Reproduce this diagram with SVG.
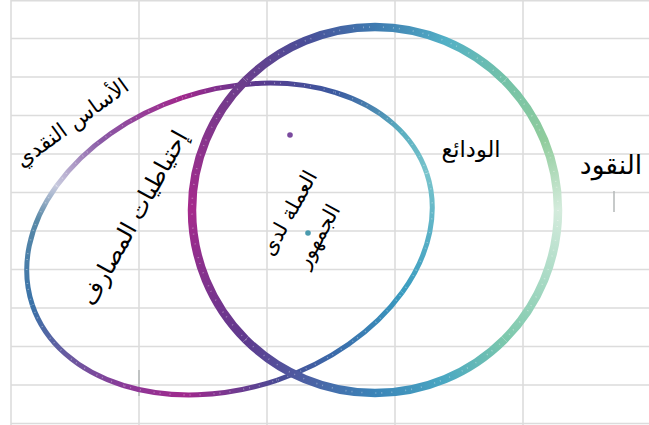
<svg xmlns="http://www.w3.org/2000/svg" width="649" height="425" viewBox="0 0 649 425">
<style>
.grid{stroke:#dcdcdc;stroke-width:1.6;fill:none}
.ring{fill:none;stroke-width:8.5;stroke-linecap:butt}
.ring2{fill:none;stroke-width:5;stroke-linecap:butt}
.spark{fill:none;stroke:#ffffff;stroke-opacity:0.35;stroke-width:1.6;stroke-dasharray:1 9 1 5 1 13}
.lbl{font-family:"DejaVu Sans","Noto Sans",sans-serif;fill:#000}
.mark{stroke:#b4b8b8;stroke-width:1.5}
</style>
<defs>
<linearGradient id="b1" gradientUnits="userSpaceOnUse" x1="558" y1="210" x2="504" y2="339"><stop offset="0" stop-color="#d4ebdc"/><stop offset="1" stop-color="#7cc8ac"/></linearGradient>
<linearGradient id="b2" gradientUnits="userSpaceOnUse" x1="504" y1="339" x2="375" y2="393"><stop offset="0" stop-color="#7cc8ac"/><stop offset="0.5" stop-color="#4aa8c2"/><stop offset="1" stop-color="#3a84b8"/></linearGradient>
<linearGradient id="b3" gradientUnits="userSpaceOnUse" x1="375" y1="393" x2="246" y2="339"><stop offset="0" stop-color="#3a84b8"/><stop offset="1" stop-color="#5e3a8e"/></linearGradient>
<linearGradient id="b4" gradientUnits="userSpaceOnUse" x1="246" y1="339" x2="192" y2="210"><stop offset="0" stop-color="#5e3a8e"/><stop offset="1" stop-color="#a52a8c"/></linearGradient>
<linearGradient id="b5" gradientUnits="userSpaceOnUse" x1="192" y1="210" x2="246" y2="81"><stop offset="0" stop-color="#a52a8c"/><stop offset="1" stop-color="#6a3e8c"/></linearGradient>
<linearGradient id="b6" gradientUnits="userSpaceOnUse" x1="246" y1="81" x2="375" y2="27"><stop offset="0" stop-color="#6a3e8c"/><stop offset="0.5" stop-color="#4a4e98"/><stop offset="1" stop-color="#3e7ab0"/></linearGradient>
<linearGradient id="b7" gradientUnits="userSpaceOnUse" x1="375" y1="27" x2="504" y2="81"><stop offset="0" stop-color="#3e7ab0"/><stop offset="0.5" stop-color="#52b0c6"/><stop offset="1" stop-color="#74c2a8"/></linearGradient>
<linearGradient id="b8" gradientUnits="userSpaceOnUse" x1="504" y1="81" x2="558" y2="210"><stop offset="0" stop-color="#74c2a8"/><stop offset="0.5" stop-color="#90cc9c"/><stop offset="1" stop-color="#d4ebdc"/></linearGradient>
<linearGradient id="s1" gradientUnits="userSpaceOnUse" x1="427" y1="173" x2="402" y2="292"><stop offset="0" stop-color="#78c4cc"/><stop offset="1" stop-color="#3a9cc0"/></linearGradient>
<linearGradient id="s2" gradientUnits="userSpaceOnUse" x1="402" y1="292" x2="277" y2="380"><stop offset="0" stop-color="#3a9cc0"/><stop offset="0.6" stop-color="#3a6aaa"/><stop offset="1" stop-color="#4a4a94"/></linearGradient>
<linearGradient id="s3" gradientUnits="userSpaceOnUse" x1="277" y1="380" x2="124" y2="386"><stop offset="0" stop-color="#4a4a94"/><stop offset="0.6" stop-color="#a0288c"/><stop offset="1" stop-color="#8a3a98"/></linearGradient>
<linearGradient id="s4" gradientUnits="userSpaceOnUse" x1="124" y1="386" x2="32" y2="305"><stop offset="0" stop-color="#8a3a98"/><stop offset="0.5" stop-color="#6a5aa0"/><stop offset="1" stop-color="#3a72a8"/></linearGradient>
<linearGradient id="s5" gradientUnits="userSpaceOnUse" x1="32" y1="305" x2="57" y2="186"><stop offset="0" stop-color="#3a72a8"/><stop offset="0.7" stop-color="#5a8aa8"/><stop offset="1" stop-color="#c8cade"/></linearGradient>
<linearGradient id="s6" gradientUnits="userSpaceOnUse" x1="57" y1="186" x2="182" y2="98"><stop offset="0" stop-color="#c8cade"/><stop offset="0.4" stop-color="#8a5aa6"/><stop offset="1" stop-color="#a0288c"/></linearGradient>
<linearGradient id="s7" gradientUnits="userSpaceOnUse" x1="182" y1="98" x2="336" y2="93"><stop offset="0" stop-color="#a0288c"/><stop offset="0.5" stop-color="#5a3a8e"/><stop offset="1" stop-color="#3a5aa0"/></linearGradient>
<linearGradient id="s8" gradientUnits="userSpaceOnUse" x1="336" y1="93" x2="427" y2="173"><stop offset="0" stop-color="#3a5aa0"/><stop offset="0.6" stop-color="#5aaec0"/><stop offset="1" stop-color="#78c4cc"/></linearGradient>
</defs>
<rect width="649" height="425" fill="#ffffff"/>
<g id="grid">
<path class="grid" d="M11 0V425M139 0V425M267 0V425M395 0V425M523 0V425"/>
<path class="grid" d="M11 0.8H649M11 38.5H649M11 77H649M11 115.5H649M11 154H649M11 192.5H649M11 231H649M11 269.5H649M11 308H649M11 346.5H649M11 385H649M11 423.5H649"/>
<line class="mark" x1="139" y1="370" x2="139" y2="396"/>
<line class="mark" x1="614" y1="191" x2="614" y2="212"/>
</g>
<g id="connectors"></g>
<g id="node-base">
<g class="ring2">
<path stroke="url(#s1)" d="M426.7 173.1A208 149 -18.5 0 1 402.3 292.3"/>
<path stroke="url(#s2)" d="M402.3 292.3A208 149 -18.5 0 1 276.7 380.3"/>
<path stroke="url(#s3)" d="M276.7 380.3A208 149 -18.5 0 1 123.5 385.5"/>
<path stroke="url(#s4)" d="M123.5 385.5A208 149 -18.5 0 1 32.3 304.9"/>
<path stroke="url(#s5)" d="M32.3 304.9A208 149 -18.5 0 1 56.7 185.7"/>
<path stroke="url(#s6)" d="M56.7 185.7A208 149 -18.5 0 1 182.3 97.7"/>
<path stroke="url(#s7)" d="M182.3 97.7A208 149 -18.5 0 1 335.5 92.5"/>
<path stroke="url(#s8)" d="M335.5 92.5A208 149 -18.5 0 1 426.7 173.1"/>
</g>
<ellipse class="spark" cx="229.5" cy="239" rx="208" ry="149" transform="rotate(-18.5 229.5 239)"/>
<text class="lbl" font-size="21.5" text-anchor="middle" transform="translate(72 123) rotate(-36)" dy="7">الأساس النقدي</text>
<text class="lbl" font-size="23.5" text-anchor="middle" transform="translate(134 218) rotate(-61)" dy="8">إحتياطيات المصارف</text>
</g>
<g id="node-money">
<g class="ring">
<path stroke="url(#b1)" d="M558 210A183 183 0 0 1 504.4 339.4"/>
<path stroke="url(#b2)" d="M504.4 339.4A183 183 0 0 1 375 393"/>
<path stroke="url(#b3)" d="M375 393A183 183 0 0 1 245.6 339.4"/>
<path stroke="url(#b4)" d="M245.6 339.4A183 183 0 0 1 192 210"/>
<path stroke="url(#b5)" d="M192 210A183 183 0 0 1 245.6 80.6"/>
<path stroke="url(#b6)" d="M245.6 80.6A183 183 0 0 1 375 27"/>
<path stroke="url(#b7)" d="M375 27A183 183 0 0 1 504.4 80.6"/>
<path stroke="url(#b8)" d="M504.4 80.6A183 183 0 0 1 558 210"/>
</g>
<circle class="spark" cx="375" cy="210" r="183" stroke-width="2.2"/>
<text class="lbl" font-size="26.5" text-anchor="middle" x="611" y="174">النقود</text>
</g>
<g id="node-deposits">
<text class="lbl" font-size="22.5" text-anchor="middle" x="471" y="157">الودائع</text>
</g>
<g id="node-currency">
<circle cx="290" cy="135" r="2.8" fill="#7a4a9e"/>
<circle cx="308" cy="233" r="2.8" fill="#4a9aae"/>
<text class="lbl" font-size="21" text-anchor="middle" transform="translate(289 213) rotate(-61)" dy="7">العملة لدى</text>
<text class="lbl" font-size="21" text-anchor="middle" transform="translate(318 236) rotate(-61)" dy="7">الجمهور</text>
</g>
</svg>
